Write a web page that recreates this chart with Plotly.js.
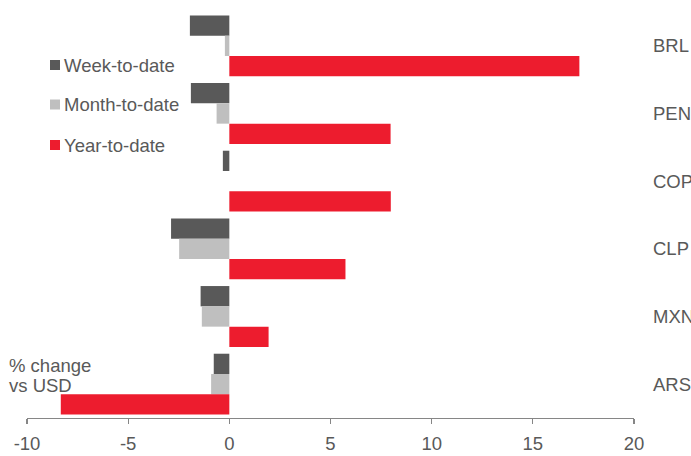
<!DOCTYPE html>
<html>
<head>
<meta charset="utf-8">
<script src="https://cdn.plot.ly/plotly-3.0.1.min.js"></script>
<style>
  html, body { margin: 0; padding: 0; background: #fff; }
  #chart { width: 691px; height: 456px; }
</style>
</head>
<body>
<div id="chart"></div>
<script>
// Latin American currencies, % change vs USD
const currencies = ['BRL', 'PEN', 'COP', 'CLP', 'MXN', 'ARS'];
const weekToDate  = [-1.95, -1.9, -0.32, -2.88, -1.42, -0.77];
const monthToDate = [-0.22, -0.63, 0.0, -2.48, -1.36, -0.9];
const yearToDate  = [17.3, 7.97, 7.98, 5.74, 1.94, -8.33];
const xTicks = [-10, -5, 0, 5, 10, 15, 20];

const seriesNames  = ['Week-to-date', 'Month-to-date', 'Year-to-date'];
const seriesColors = ['#595959', '#bfbfbf', '#ed1c2e'];
const seriesValues = [weekToDate, monthToDate, yearToDate];

const grey = '#595959';
const axisGrey = '#868686';
const fontFamily = '"Liberation Sans", Arial, sans-serif';
const fontSize = 18.5;

// plot area in pixels, used to place the key and note in paper units
const W = 691, H = 456;
const M = { l: 27, r: 57, t: 12, b: 38 };
const plotW = W - M.l - M.r, plotH = H - M.t - M.b;
const px = v => (v - M.l) / plotW;
const py = v => (H - M.b - v) / plotH;

const data = seriesNames.map((name, i) => ({
  type: 'bar',
  orientation: 'h',
  name: name,
  x: seriesValues[i],
  y: currencies,
  marker: { color: seriesColors[i], line: { width: 0 } },
  hoverinfo: 'x+y+name'
}));

// boundaries between currency groups for the tick marks on the zero axis
const boundaries = [];
for (let i = 0; i <= currencies.length; i++) boundaries.push(i - 0.5);

// key: a small square and a label per series
const keyRows = [65, 104.5, 145];
const keyShapes = seriesNames.map((name, i) => ({
  type: 'rect',
  xref: 'paper', yref: 'paper',
  xsizemode: 'pixel', ysizemode: 'pixel',
  xanchor: px(50), yanchor: py(keyRows[i]),
  x0: 0, x1: 10, y0: -5, y1: 5,
  fillcolor: seriesColors[i],
  line: { width: 0 }
}));
const textNote = (text, x, y) => ({
  xref: 'paper', yref: 'paper',
  x: px(x), y: py(y),
  xanchor: 'left', yanchor: 'middle',
  align: 'left',
  showarrow: false,
  text: text,
  font: { family: fontFamily, size: fontSize, color: grey }
});
const keyLabels = seriesNames.map((name, i) => textNote(name, 61.5, keyRows[i]));
const unitNote = [textNote('% change', 7, 365), textNote('vs USD', 7, 385)];

const layout = {
  width: W,
  height: H,
  margin: M,
  paper_bgcolor: '#ffffff',
  plot_bgcolor: '#ffffff',
  font: { family: fontFamily, size: fontSize, color: grey },
  barmode: 'group',
  bargap: 0.1,
  bargroupgap: 0,
  showlegend: false,
  xaxis: {
    range: [-10, 20],
    tickvals: xTicks,
    ticktext: xTicks.map(String),
    showgrid: false,
    zeroline: false,
    showline: true,
    linecolor: axisGrey,
    linewidth: 1.3,
    ticks: 'outside',
    ticklen: 5,
    tickwidth: 1.3,
    tickcolor: axisGrey,
    ticklabelstandoff: 3,
    tickfont: { family: fontFamily, size: fontSize, color: grey },
    fixedrange: true
  },
  yaxis: {
    type: 'category',
    categoryorder: 'array',
    categoryarray: currencies,
    range: [5.5, -0.5],
    side: 'right',
    showline: false,
    showgrid: false,
    zeroline: false,
    ticks: '',
    ticklabelstandoff: 18,
    tickfont: { family: fontFamily, size: fontSize, color: grey },
    fixedrange: true
  },
  yaxis2: {
    overlaying: 'y',
    anchor: 'free',
    position: 1 / 3,
    side: 'left',
    range: [5.5, -0.5],
    tickvals: boundaries,
    showticklabels: false,
    showgrid: false,
    zeroline: false,
    showline: true,
    linecolor: axisGrey,
    linewidth: 1.3,
    ticks: 'outside',
    ticklen: 4,
    tickwidth: 1.3,
    tickcolor: axisGrey,
    fixedrange: true
  },
  shapes: keyShapes,
  annotations: keyLabels.concat(unitNote)
};

Plotly.newPlot('chart', data, layout, { displayModeBar: false, staticPlot: true });
</script>
</body>
</html>
